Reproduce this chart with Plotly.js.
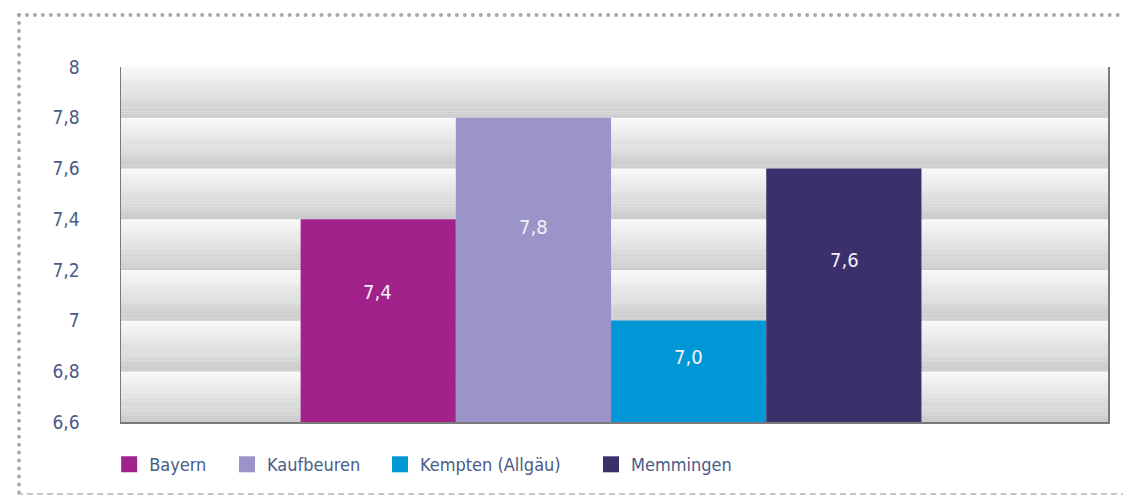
<!DOCTYPE html>
<html>
<head>
<meta charset="utf-8">
<script src="https://cdn.plot.ly/plotly-3.0.1.min.js"></script>
<style>
html,body{margin:0;padding:0;background:#fff;}
#wrap{position:relative;width:1123px;height:503px;}
#chart{width:1123px;height:503px;}
#frame{position:absolute;left:17px;top:13px;width:1120px;height:482px;border-top:4px dotted #a8aaad;border-left:4px dotted #a8aaad;border-bottom:2px dashed #c4c5c7;pointer-events:none;box-sizing:border-box;}
</style>
</head>
<body>
<div id="wrap"><div id="chart"></div><div id="frame"></div></div>
<script>
// ---- data ----
const seriesNames = ['Bayern', 'Kaufbeuren', 'Kempten (Allgäu)', 'Memmingen'];
const seriesValues = [7.4, 7.8, 7.0, 7.6];
const seriesColors = ['#a1228a', '#9b94c8', '#0097d7', '#3b306b'];
const tickValues = [6.6, 6.8, 7.0, 7.2, 7.4, 7.6, 7.8, 8.0];
const tickLabels = ['6,6', '6,8', '7', '7,2', '7,4', '7,6', '7,8', '8'];

const FONT = '"Liberation Sans Narrow", "DejaVu Sans Condensed", "Arial Narrow", sans-serif';
const TEXTCOL = '#4a5b87';
const yMin = tickValues[0], yMax = tickValues[tickValues.length - 1];
const legendNames = ['legend', 'legend2', 'legend3', 'legend4'];
const legendX = [-0.012, 0.1074, 0.2624, 0.4762];

const traces = [];
seriesNames.forEach((n, i) => {
  traces.push({
    type: 'bar', x: [0], y: [seriesValues[i]], base: 0, name: n,
    marker: {color: seriesColors[i], line: {width: 0}},
    showlegend: false, hoverinfo: 'name+y'
  });
});
seriesNames.forEach((n, i) => {
  traces.push({
    type: 'scatter', mode: 'markers', x: [null], y: [null], name: n,
    marker: {symbol: 'square', size: 16, color: seriesColors[i]},
    showlegend: true, hoverinfo: 'skip', legend: legendNames[i]
  });
});

// gradient bands between gridlines
const shapes = [];
const STEPS = 24;
const cTop = [249, 249, 249], cBot = [201, 202, 204];
for (let b = 0; b < tickValues.length - 1; b++) {
  const lo = tickValues[b], hi = tickValues[b + 1];
  for (let s = 0; s < STEPS; s++) {
    const f = (s + 0.5) / STEPS;
    const c = cTop.map((v, k) => Math.round(v + (cBot[k] - v) * f));
    const y1 = hi - (hi - lo) * s / STEPS;
    const y0 = hi - (hi - lo) * (s + 1) / STEPS;
    shapes.push({type: 'rect', xref: 'paper', yref: 'y', x0: 0, x1: 1, y0: y0 - 0.0005, y1: y1,
      fillcolor: `rgb(${c[0]},${c[1]},${c[2]})`, line: {width: 0}, layer: 'below'});
  }
}

// value labels inside bars
const annotations = seriesValues.map((v, i) => {
  return {
    x: 0, y: yMin + (v - yMin) * 0.64, xref: 'x', yref: 'y',
    text: v.toFixed(1).replace('.', ','), showarrow: false,
    xshift: (i - 1.5) * 155.5,
    font: {family: FONT, size: 20, color: '#f4f1f6'}
  };
});

const layout = {
  width: 1123, height: 503,
  margin: {l: 121, r: 15, t: 67, b: 81},
  paper_bgcolor: '#ffffff', plot_bgcolor: '#ffffff',
  separators: ',.',
  barmode: 'group', bargap: 0.371, bargroupgap: 0,
  font: {family: FONT, color: TEXTCOL, size: 18},
  xaxis: {type: 'linear', range: [-0.4965, 0.5035], showticklabels: false, showgrid: false, zeroline: false,
    showline: true, linecolor: '#7a7a7a', linewidth: 1.5, ticks: '', fixedrange: true},
  yaxis: {range: [yMin, yMax], tickvals: tickValues, ticktext: tickLabels, showgrid: false, zeroline: false,
    showline: true, mirror: true, linecolor: '#7a7a7a', linewidth: 1.5, ticks: '', ticklabelstandoff: 36,
    tickfont: {family: FONT, size: 19, color: TEXTCOL}},
  showlegend: true,
  shapes: shapes,
  annotations: annotations
};
legendNames.forEach((ln, i) => {
  layout[ln] = {orientation: 'h', x: legendX[i], xanchor: 'left', y: -0.12, yanchor: 'middle',
    font: {family: FONT, size: 18, color: TEXTCOL}, bgcolor: 'rgba(0,0,0,0)'};
});

Plotly.newPlot('chart', traces, layout, {displayModeBar: false, staticPlot: true});
</script>
</body>
</html>
